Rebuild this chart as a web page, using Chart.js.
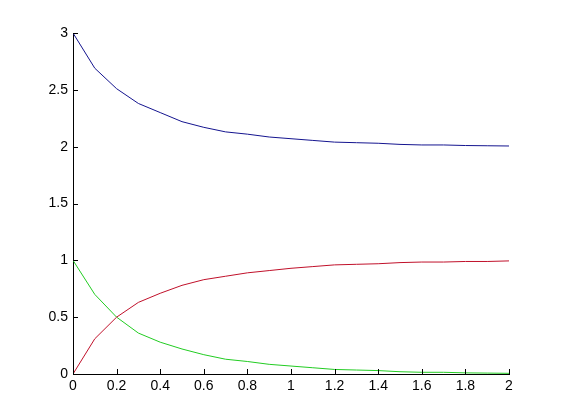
<!DOCTYPE html>
<html>
<head>
<meta charset="utf-8">
<script src="https://cdn.jsdelivr.net/npm/chart.js@4/dist/chart.umd.min.js"></script>
<style>
  html, body { margin: 0; padding: 0; background: #fff; }
  #wrap { width: 561px; height: 420px; position: relative; }
</style>
</head>
<body>
<div id="wrap"><canvas id="c" width="561" height="420"></canvas></div>
<script>
const xValues = [0, 0.1, 0.2, 0.3, 0.4, 0.5, 0.6, 0.7, 0.8, 0.9, 1.0, 1.1, 1.2, 1.3, 1.4, 1.5, 1.6, 1.7, 1.8, 1.9, 2.0];
const blueValues = [3, 2.69, 2.51, 2.38, 2.30, 2.22, 2.17, 2.13, 2.11, 2.085, 2.07, 2.055, 2.04, 2.035, 2.03, 2.02, 2.015, 2.015, 2.01, 2.008, 2.006];
const redValues = [0, 0.31, 0.50, 0.63, 0.71, 0.78, 0.83, 0.86, 0.89, 0.91, 0.93, 0.945, 0.96, 0.965, 0.97, 0.98, 0.985, 0.985, 0.99, 0.99, 0.995];
const greenValues = [1, 0.70, 0.50, 0.36, 0.28, 0.22, 0.17, 0.13, 0.11, 0.085, 0.07, 0.055, 0.04, 0.035, 0.03, 0.02, 0.015, 0.015, 0.01, 0.008, 0.006];
const xTickLabels = ['0', '0.2', '0.4', '0.6', '0.8', '1', '1.2', '1.4', '1.6', '1.8', '2'];
const yTickLabels = ['0', '0.5', '1', '1.5', '2', '2.5', '3'];

function pts(ys) { return xValues.map((x, i) => ({ x: x, y: ys[i] })); }

const inwardTicks = {
  id: 'inwardTicks',
  afterDraw(chart) {
    const ctx = chart.ctx;
    const xs = chart.scales.x, ys = chart.scales.y;
    const area = chart.chartArea;
    ctx.save();
    ctx.strokeStyle = '#000';
    ctx.lineWidth = 1;
    ctx.beginPath();
    xs.ticks.forEach(t => {
      const px = Math.round(xs.getPixelForValue(t.value)) + 0.5;
      ctx.moveTo(px, area.bottom);
      ctx.lineTo(px, area.bottom - 5);
    });
    ys.ticks.forEach(t => {
      const py = Math.round(ys.getPixelForValue(t.value)) + 0.5;
      ctx.moveTo(area.left, py);
      ctx.lineTo(area.left + 5, py);
    });
    ctx.stroke();
    ctx.restore();
  }
};

const font = { family: '"Liberation Sans", Arial, sans-serif', size: 14 };

new Chart(document.getElementById('c'), {
  type: 'line',
  data: {
    datasets: [
      { data: pts(blueValues), borderColor: '#14148f', borderWidth: 1, pointRadius: 0, tension: 0, fill: false },
      { data: pts(redValues), borderColor: '#c0102a', borderWidth: 1, pointRadius: 0, tension: 0, fill: false },
      { data: pts(greenValues), borderColor: '#22cc22', borderWidth: 1, pointRadius: 0, tension: 0, fill: false }
    ]
  },
  options: {
    responsive: false,
    animation: false,
    layout: { padding: { left: 0, top: 33, right: 52, bottom: 0 } },
    plugins: { legend: { display: false }, tooltip: { enabled: false } },
    scales: {
      x: {
        type: 'linear', min: 0, max: 2,
        grid: { display: false, drawTicks: false },
        border: { display: true, color: '#000', width: 1 },
        ticks: {
          stepSize: 0.2, color: '#000', font: font, padding: 4, maxRotation: 0, autoSkip: false,
          callback: (v, i) => xTickLabels[i]
        },
        afterFit: s => { s.height = 46; }
      },
      y: {
        type: 'linear', min: 0, max: 3,
        grid: { display: false, drawTicks: false },
        border: { display: true, color: '#000', width: 1 },
        ticks: {
          stepSize: 0.5, color: '#000', font: font, padding: 5, autoSkip: false,
          callback: (v, i) => yTickLabels[i]
        },
        afterFit: s => { s.width = 73; }
      }
    }
  },
  plugins: [inwardTicks]
});
</script>
</body>
</html>
